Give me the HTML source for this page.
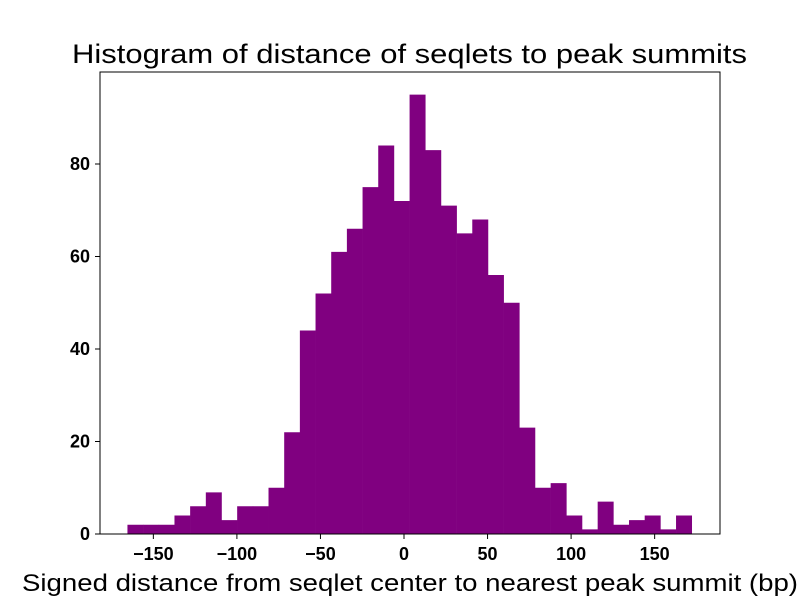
<!DOCTYPE html>
<html><head><meta charset="utf-8"><style>
body{margin:0;background:#fff;}
svg text{font-family:"Liberation Sans",sans-serif;}
</style></head><body>
<svg id="chart" width="800" height="600" xmlns="http://www.w3.org/2000/svg">
<rect width="800" height="600" fill="#fff"/>
<text x="72" y="63" font-size="27" textLength="675" lengthAdjust="spacingAndGlyphs">Histogram of distance of seqlets to peak summits</text>
<g id="bars"></g>
<rect x="100" y="72" width="620" height="462" fill="none" stroke="#000" stroke-width="1"/>
<g id="xticks"></g>
<g id="yticks"></g>
<text x="22" y="591" font-size="24" textLength="776" lengthAdjust="spacingAndGlyphs">Signed distance from seqlet center to nearest peak summit (bp)</text>
</svg>
<script>
const binStart = -165.5;
const binWidth = 9.38;
const counts = [2,2,2,4,6,9,3,6,6,10,22,44,52,61,66,75,84,72,95,83,71,65,68,56,50,23,10,11,4,1,7,2,3,4,1,4];
const xTicks = [-150,-100,-50,0,50,100,150];
const yTicks = [0,20,40,60,80];
const NS="http://www.w3.org/2000/svg";
const xs = v => 404 + (v)*1.671;
const ys = v => 534 - v*4.625;
const bars=document.getElementById('bars');
counts.forEach((c,i)=>{
  const r=document.createElementNS(NS,'rect');
  const x0=xs(binStart+i*binWidth), x1=xs(binStart+(i+1)*binWidth);
  r.setAttribute('x',x0);r.setAttribute('width',x1-x0+0.3);
  r.setAttribute('y',ys(c));r.setAttribute('height',534-ys(c));
  r.setAttribute('fill','#800080');
  
  
  bars.appendChild(r);
});
const xg=document.getElementById('xticks');
xTicks.forEach(t=>{
  const l=document.createElementNS(NS,'line');
  l.setAttribute('x1',xs(t));l.setAttribute('x2',xs(t));l.setAttribute('y1',534);l.setAttribute('y2',539);l.setAttribute('stroke','#000');
  
  
  xg.appendChild(l);
  const tx=document.createElementNS(NS,'text');
  tx.setAttribute('x',xs(t));tx.setAttribute('y',560);tx.setAttribute('font-size','18');tx.setAttribute('font-weight','bold');tx.setAttribute('text-anchor','middle');
  tx.textContent=(t<0?'\u2212'+(-t):t);
  
  
  xg.appendChild(tx);
});
const yg=document.getElementById('yticks');
yTicks.forEach(t=>{
  const l=document.createElementNS(NS,'line');
  l.setAttribute('x1',95);l.setAttribute('x2',100);l.setAttribute('y1',ys(t));l.setAttribute('y2',ys(t));l.setAttribute('stroke','#000');
  
  
  yg.appendChild(l);
  const tx=document.createElementNS(NS,'text');
  tx.setAttribute('x',90);tx.setAttribute('y',ys(t)+6);tx.setAttribute('font-size','18');tx.setAttribute('font-weight','bold');tx.setAttribute('text-anchor','end');
  tx.textContent=t;
  
  
  yg.appendChild(tx);
});
</script>
</body></html>
